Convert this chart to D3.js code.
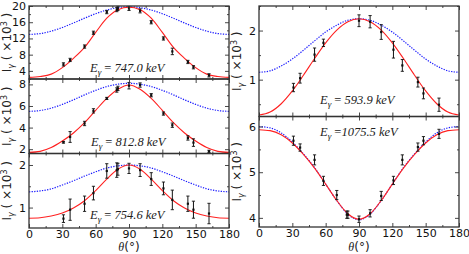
<!DOCTYPE html>
<html>
<head>
<meta charset="utf-8">
<script src="https://cdn.jsdelivr.net/npm/d3@7"></script>
<style>
body{margin:0;background:#fff;}
svg{display:block;}
.tickLbl text{font-family:"DejaVu Sans",sans-serif;fill:#111;}
</style>
</head>
<body>
<svg id="chart" width="469" height="254"></svg>
<script>
var curveAngles=[0,10,20,30,40,50,60,70,80,90,100,110,120,130,140,150,160,170,180];
// measured angles
var dataAngles=[31,37,50,58,70,79,80,90,100,110,121,129,143,148,162];
var dataAngles593=[31,37,50,58,90,100,110,121,129,143,148,162];

// 747.0 keV
var fit747=[2.4,2.6,3.2,4.8,7.1,9.8,13.5,17.0,19.1,19.7,19.1,17.0,13.5,9.8,7.1,4.8,3.2,2.6,2.4];
var calc747=[13.0,13.2,13.8,14.7,15.8,17.0,18.1,19.0,19.6,19.8,19.6,19.0,18.1,17.0,15.8,14.7,13.8,13.2,13.0];
var val747=[5.6,6.7,10.0,13.4,18.5,19.1,19.4,19.4,18.8,16.0,12.0,8.8,6.2,4.9,2.9];
var err747=[0.4,0.4,0.4,0.4,0.4,0.5,0.5,0.5,0.5,0.4,0.4,0.8,0.4,0.4,0.4];

// 812.8 keV
var fit812=[1.7,1.8,2.15,2.75,3.5,4.45,5.6,6.7,7.55,7.95,7.55,6.7,5.6,4.45,3.5,2.75,2.15,1.8,1.7];
var calc812=[5.5,5.58,5.8,6.15,6.57,7.03,7.45,7.8,8.02,8.1,8.02,7.8,7.45,7.03,6.57,6.15,5.8,5.58,5.5];
var val812=[2.64,3.13,4.38,5.55,6.7,7.48,7.63,7.88,7.94,7.0,5.3,4.22,3.04,2.61,1.8];
var err812=[0.08,0.5,0.2,0.2,0.1,0.2,0.2,0.3,0.2,0.15,0.15,0.2,0.2,0.35,0.1];

// 754.6 keV
var fit754=[0.75,0.76,0.8,0.87,0.99,1.16,1.4,1.67,1.9,2.0,1.9,1.67,1.4,1.16,0.99,0.87,0.8,0.76,0.75];
var calc754=[1.37,1.39,1.44,1.53,1.63,1.74,1.84,1.93,1.98,2.0,1.98,1.93,1.84,1.74,1.63,1.53,1.44,1.39,1.37];
var val754=[0.74,0.95,1.09,1.34,1.86,1.88,1.9,1.92,1.88,1.67,1.45,1.18,1.09,0.95,0.86];
var err754=[0.09,0.25,0.18,0.16,0.17,0.17,0.14,0.12,0.15,0.15,0.15,0.23,0.18,0.2,0.24];

// 593.9 keV
var fit593=[0.28,0.34,0.51,0.77,1.09,1.43,1.75,2.01,2.18,2.24,2.18,2.01,1.75,1.43,1.09,0.77,0.51,0.34,0.28];
var calc593=[1.15,1.18,1.28,1.42,1.6,1.79,1.97,2.11,2.21,2.24,2.21,2.11,1.97,1.79,1.6,1.42,1.28,1.18,1.15];
var val593=[0.84,1.03,1.51,1.75,2.2,2.18,1.97,1.61,1.29,0.95,0.72,0.49];
var err593=[0.085,0.1,0.135,0.075,0.12,0.125,0.15,0.17,0.12,0.1,0.11,0.135];

// 1075.5 keV
var fit1075=[5.93,5.91,5.82,5.64,5.39,5.09,4.74,4.38,4.09,3.97,4.09,4.38,4.74,5.09,5.39,5.64,5.82,5.91,5.93];
var calc1075=[6.0,5.97,5.86,5.66,5.4,5.1,4.74,4.38,4.08,3.96,4.08,4.38,4.74,5.1,5.4,5.66,5.86,5.97,6.0];
var val1075=[5.69,5.54,5.27,4.81,4.5,4.07,4.07,3.97,4.1,4.48,4.82,5.27,5.55,5.69,5.84];
var err1075=[0.1,0.08,0.11,0.1,0.1,0.08,0.08,0.07,0.08,0.1,0.09,0.11,0.09,0.09,0.1];

var xTicks=[0,30,60,90,120,150,180];
var xMinor=[15,45,75,105,135,165];

var svg=d3.select("#chart");

function Panel(opt){
	this.opt=opt;
}

Panel.prototype={
	draw:function(){
		var o=this.opt;
		var x=d3.scaleLinear().domain([0,180]).range([o.left,o.right]);
		var y=d3.scaleLinear().domain(o.yDomain).range([o.bottom,o.top]);
		var g=svg.append("g");
		var clipId="clip"+o.id;

		g.append("clipPath").attr("id",clipId)
			.append("rect")
			.attr("x",o.left).attr("y",o.top)
			.attr("width",o.right-o.left).attr("height",o.bottom-o.top);

		var line=function(vals){
			return d3.line()
				.x(function(d,i){return x(curveAngles[i]);})
				.y(function(d){return y(d);})
				.curve(d3.curveMonotoneX)(vals);
		};

		//curves
		var curves=g.append("g").attr("clip-path","url(#"+clipId+")");
		curves.append("path").attr("d",line(o.calc))
			.attr("fill","none").attr("stroke","#1a1aff").attr("stroke-width",1.2)
			.attr("stroke-dasharray","1.3,1.3");
		curves.append("path").attr("d",line(o.fit))
			.attr("fill","none").attr("stroke","#ff2020").attr("stroke-width",1.1);

		//error bars
		var pts=g.append("g").selectAll("g").data(o.vals).enter().append("g");
		pts.append("line")
			.attr("x1",function(d,i){return x(o.angles[i]);})
			.attr("x2",function(d,i){return x(o.angles[i]);})
			.attr("y1",function(d,i){return y(d-o.errs[i]);})
			.attr("y2",function(d,i){return y(d+o.errs[i]);})
			.attr("stroke","#111").attr("stroke-width",1);
		[-1,1].forEach(function(s){
			pts.append("line")
				.attr("x1",function(d,i){return x(o.angles[i])-1.6;})
				.attr("x2",function(d,i){return x(o.angles[i])+1.6;})
				.attr("y1",function(d,i){return y(d+s*o.errs[i]);})
				.attr("y2",function(d,i){return y(d+s*o.errs[i]);})
				.attr("stroke","#111").attr("stroke-width",0.9);
		});
		pts.append("rect")
			.attr("x",function(d,i){return x(o.angles[i])-1.1;})
			.attr("y",function(d){return y(d)-1.1;})
			.attr("width",2.2).attr("height",2.2)
			.attr("fill","#111");

		//axes, ticks pointing inside
		var ax=function(axis,tr,isLbl){
			var a=g.append("g").attr("transform",tr).call(axis);
			a.select(".domain").remove();
			a.selectAll("line").attr("stroke","#333").attr("stroke-width",0.9);
			if(isLbl){a.attr("class","tickLbl");}
			return a;
		};
		ax(d3.axisLeft(y).tickValues(o.yTicks).tickSize(-4).tickPadding(3).tickFormat(d3.format("d")),"translate("+o.left+",0)",true)
			.selectAll("text").style("font-size","11px");
		ax(d3.axisLeft(y).tickValues(o.yMinor).tickSize(-2).tickFormat(""),"translate("+o.left+",0)");
		ax(d3.axisRight(y).tickValues(o.yTicks).tickSize(-4).tickFormat(""),"translate("+o.right+",0)");
		ax(d3.axisRight(y).tickValues(o.yMinor).tickSize(-2).tickFormat(""),"translate("+o.right+",0)");
		ax(d3.axisTop(x).tickValues(xTicks).tickSize(-4).tickFormat(""),"translate(0,"+o.top+")");
		ax(d3.axisTop(x).tickValues(xMinor).tickSize(-2).tickFormat(""),"translate(0,"+o.top+")");
		var bx=ax(d3.axisBottom(x).tickValues(xTicks).tickSize(-4).tickPadding(2).tickFormat(o.xLabels?d3.format("d"):""),"translate(0,"+o.bottom+")",true);
		bx.selectAll("text").style("font-size","11px");
		ax(d3.axisBottom(x).tickValues(xMinor).tickSize(-2).tickFormat(""),"translate(0,"+o.bottom+")");

		//frame
		g.append("rect")
			.attr("x",o.left).attr("y",o.top)
			.attr("width",o.right-o.left).attr("height",o.bottom-o.top)
			.attr("fill","none").attr("stroke","#333").attr("stroke-width",1.3);

		//energy label
		var t=g.append("text")
			.attr("x",o.labelX).attr("y",o.labelY)
			.attr("font-family","'Liberation Serif',serif")
			.attr("font-style","italic").attr("font-size","12.5px").attr("fill","#222");
		t.append("tspan").text("E");
		t.append("tspan").attr("dy",2.5).attr("font-size","9px").text("\u03b3");
		t.append("tspan").attr("dy",-2.5).attr("font-style","normal").text(o.eq);
		t.append("tspan").text(o.energy+" keV");

		//y title
		var yl=g.append("text")
			.attr("transform","translate("+(o.left-18)+","+((o.top+o.bottom)/2)+") rotate(-90)")
			.attr("text-anchor","middle")
			.attr("font-family","'DejaVu Sans',sans-serif").attr("font-size","12px").attr("fill","#222");
		yl.append("tspan").text("I");
		yl.append("tspan").attr("dy",2.5).attr("font-size","8px").attr("font-style","italic").text("\u03b3");
		yl.append("tspan").attr("dy",-2.5).attr("font-size","12px").text(" ( \u00d710");
		yl.append("tspan").attr("dy",-4).attr("font-size","8px").text("3");
		yl.append("tspan").attr("dy",4).attr("font-size","12px").text(" )");

		//x title
		if(o.xLabels){
			var xl=g.append("text")
				.attr("x",(o.left+o.right)/2).attr("y",251)
				.attr("text-anchor","middle")
				.attr("font-size","12px").attr("fill","#222");
			xl.append("tspan").attr("font-family","'Liberation Serif',serif").attr("font-style","italic").text("\u03b8");
			xl.append("tspan").attr("font-family","'DejaVu Sans',sans-serif").text("(\u00b0)");
		}
	}
};

var panels=[
	{id:1,left:29,right:229,top:6,bottom:79,yDomain:[2,20],yTicks:[4,8,12,16,20],yMinor:[2,6,10,14,18],
		fit:fit747,calc:calc747,angles:dataAngles,vals:val747,errs:err747,energy:"747.0",eq:" = ",labelX:90,labelY:72,xLabels:false},
	{id:2,left:29,right:229,top:79,bottom:153.5,yDomain:[1.6,8.5],yTicks:[2,4,6,8],yMinor:[3,5,7],
		fit:fit812,calc:calc812,angles:dataAngles,vals:val812,errs:err812,energy:"812.8",eq:" = ",labelX:91,labelY:146,xLabels:false},
	{id:3,left:29,right:229,top:153.5,bottom:228,yDomain:[0.52,2.27],yTicks:[1,2],yMinor:[1.5],
		fit:fit754,calc:calc754,angles:dataAngles,vals:val754,errs:err754,energy:"754.6",eq:" = ",labelX:90,labelY:219,xLabels:true},
	{id:4,left:259,right:459,top:6,bottom:116.5,yDomain:[0.25,2.5],yTicks:[1,2],yMinor:[0.5,1.5,2.5],
		fit:fit593,calc:calc593,angles:dataAngles593,vals:val593,errs:err593,energy:"593.9",eq:" = ",labelX:320,labelY:104,xLabels:false},
	{id:5,left:259,right:459,top:116.5,bottom:227,yDomain:[3.8,6.22],yTicks:[4,5,6],yMinor:[4.5,5.5],
		fit:fit1075,calc:calc1075,angles:dataAngles,vals:val1075,errs:err1075,energy:"1075.5",eq:" =",labelX:320,labelY:136,xLabels:true}
];

panels.forEach(function(p){
	new Panel(p).draw();
});
</script>
</body>
</html>
